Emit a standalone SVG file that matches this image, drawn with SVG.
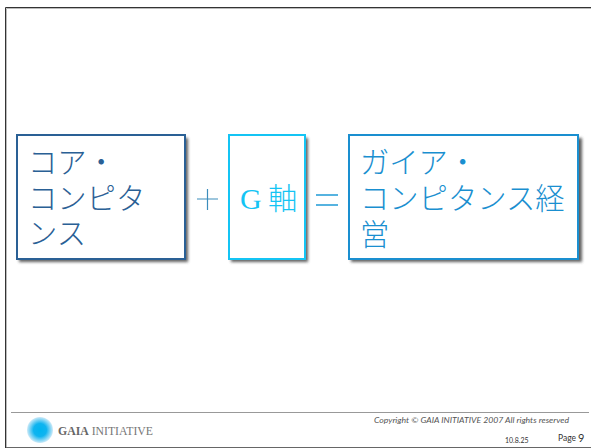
<svg xmlns="http://www.w3.org/2000/svg" width="591" height="448" viewBox="0 0 591 448">
<defs>
<filter id="sh" x="-10%" y="-10%" width="125%" height="125%"><feGaussianBlur stdDeviation="1.5"/></filter>
<radialGradient id="logo"><stop offset="0" stop-color="#00b4f0"/><stop offset="0.5" stop-color="#10b4f0"/><stop offset="1" stop-color="#cdeaf8"/></radialGradient>
</defs>
<style>
.jp{font-family:"Noto Sans CJK JP",sans-serif;font-size:29.300px;font-weight:300}
.lat{font-family:"Liberation Serif",serif}
.ft{font-family:Lato,"Liberation Sans",sans-serif}
.box{fill:#fff;stroke-width:2}
.shadow{fill:#444;opacity:.85;filter:url(#sh)}
</style>
<rect width="591" height="448" fill="#fff"/>
<g id="frame" fill="none">
<path d="M5.500 448V7.500H591" stroke="#333" stroke-width="1"/>
<path d="M6.500 448V8.500H591" stroke="#bbb" stroke-width="1"/>
<path d="M6 447.500H591" stroke="#666" stroke-width="1"/>
</g>
<g id="node-core">
<rect class="shadow" x="19" y="138" width="169" height="124"/>
<rect class="box" x="17" y="135" width="168" height="124" stroke="#2a6095"/>
<text class="jp" x="28" y="173" fill="#2a6095">コア・</text>
<text class="jp" x="28" y="209" fill="#2a6095">コンピタ</text>
<text class="jp" x="28" y="244" fill="#2a6095">ンス</text>
</g>
<g id="op-plus"><path d="M197 199H218M207.500 189V210" stroke="#3c8dbc" stroke-width="1.200"/></g>
<g id="node-g">
<rect class="shadow" x="231" y="138" width="77" height="124"/>
<rect class="box" x="229" y="135" width="76" height="124" stroke="#14c4f4"/>
<text x="240" y="209" font-size="30" class="lat" fill="#14c4f4">G</text>
<text class="jp" x="268" y="209" fill="#14c4f4">軸</text>
</g>
<g id="op-eq"><path d="M316 195H338M316 205H338" stroke="#1f9ad6" stroke-width="1.400"/></g>
<g id="node-gaia">
<rect class="shadow" x="351" y="138" width="231" height="124"/>
<rect class="box" x="349" y="135" width="229" height="124" stroke="#1a8fd0"/>
<text class="jp" x="360" y="173" fill="#1a8fd0">ガイア・</text>
<text class="jp" x="360" y="209" fill="#1a8fd0">コンピタンス経</text>
<text class="jp" x="360" y="245" fill="#1a8fd0">営</text>
</g>
<g id="footer">
<path d="M11 412.500H589" stroke="#999" stroke-width="1"/>
<circle cx="40" cy="430" r="13" fill="url(#logo)"/>
<text x="58" y="435" class="lat" font-size="12.500" fill="#777" textLength="95" lengthAdjust="spacingAndGlyphs"><tspan font-weight="700" fill="#666">GAIA</tspan> INITIATIVE</text>
<text x="374" y="423" class="ft" font-size="8.500" font-style="italic" fill="#555" textLength="195" lengthAdjust="spacingAndGlyphs">Copyright © GAIA INITIATIVE 2007 All rights reserved</text>
<text x="505" y="443" class="ft" font-size="7" fill="#333">10.8.25</text>
<text x="558" y="441" class="ft" font-size="8.500" fill="#333">Page</text>
<text x="578" y="442" class="ft" font-size="11" fill="#333">9</text>
</g>
</svg>
